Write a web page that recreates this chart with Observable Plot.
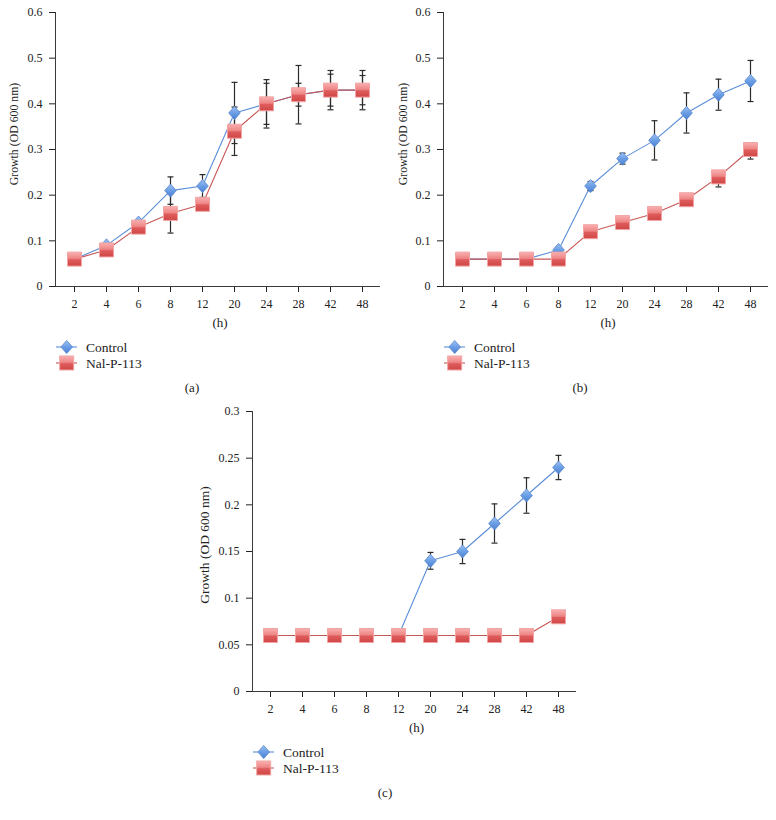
<!DOCTYPE html>
<html><head><meta charset="utf-8">
<script src="https://cdn.jsdelivr.net/npm/d3@7"></script>
<script src="https://cdn.jsdelivr.net/npm/@observablehq/plot@0.6"></script>
<style>
body{margin:0;background:#fff;}
#root{position:relative;width:776px;height:820px;background:#fff;font-family:"Liberation Serif","DejaVu Serif",serif;color:#222;overflow:hidden;}
.plotwrap{position:absolute;}
.ytitle{position:absolute;white-space:nowrap;transform:translate(-50%,-50%) rotate(-90deg);}
.ctr{position:absolute;font-size:13px;white-space:nowrap;transform:translate(-50%,-50%);}
.leg{position:absolute;}
</style></head><body>
<svg width="0" height="0" style="position:absolute">
  <defs>
    <linearGradient id="gBlue" x1="0" y1="0" x2="0" y2="1">
      <stop offset="0" stop-color="#9dc2f2"/>
      <stop offset="0.5" stop-color="#6b9ee6"/>
      <stop offset="1" stop-color="#4a80d2"/>
    </linearGradient>
    <linearGradient id="gRed" x1="0" y1="0" x2="0" y2="1">
      <stop offset="0" stop-color="#f9b0b0"/>
      <stop offset="0.45" stop-color="#ee8585"/>
      <stop offset="0.55" stop-color="#df5c5c"/>
      <stop offset="1" stop-color="#cf4646"/>
    </linearGradient>
  </defs>
</svg>
<div id="root"></div>
<script>
// ---- data ----
const hours = ["2","4","6","8","12","20","24","28","42","48"];
const seriesNames = ["Control", "Nal-P-113"];

// panel (a)
const aControl    = [0.06,0.09,0.14,0.21,0.22,0.38,0.40,0.42,0.43,0.43];
const aControlErr = [0,0,0,0.03,0.025,0.067,0.053,0.064,0.043,0.043];
const aNal        = [0.06,0.08,0.13,0.16,0.18,0.34,0.40,0.42,0.43,0.43];
const aNalErr     = [0,0,0,0.043,0.01,0.053,0.045,0.025,0.035,0.032];

// panel (b)
const bControl      = [0.06,0.06,0.06,0.08,0.22,0.28,0.32,0.38,0.42,0.45];
const bControlErr   = [0,0,0,0,0.01,0.012,0.043,0.044,0.034,0.045];
const bNal          = [0.06,0.06,0.06,0.06,0.12,0.14,0.16,0.19,0.24,0.30];
const bNalErrDown   = [0,0,0,0,0,0,0.013,0,0.022,0.021];
const bNalErrUp     = [0,0,0,0,0,0,0,0,0,0];

// panel (c)
const cControl    = [0.06,0.06,0.06,0.06,0.06,0.14,0.15,0.18,0.21,0.24];
const cControlErr = [0,0,0,0,0,0.009,0.013,0.021,0.019,0.013];
const cNal        = [0.06,0.06,0.06,0.06,0.06,0.06,0.06,0.06,0.06,0.08];
const cNalErr     = [0,0,0,0,0,0,0,0,0,0];

const yTicksAB = [0,0.1,0.2,0.3,0.4,0.5,0.6];
const yTicksC  = [0,0.05,0.1,0.15,0.2,0.25,0.3];

const yTitle = "Growth (OD 600 nm)";
const xTitle = "(h)";
const panelLabels = ["(a)","(b)","(c)"];

// ---- styles ----
const FONT = '"Liberation Serif","DejaVu Serif",serif';
const blue = "#5b8fd8";
const red = "#c95656";
const errColor = "#2b2b2b";
const axisColor = "#3a3a3a";

const capSymbol = {draw(ctx, size){ const w = Math.sqrt(size/Math.PI); ctx.moveTo(-w,0); ctx.lineTo(w,0); }};
const diamondSymbol = {draw(ctx, size){ const r = Math.sqrt(size/Math.PI); const h = r*1.1, w = r*0.97;
  ctx.moveTo(0,-h); ctx.lineTo(w,0); ctx.lineTo(0,h); ctx.lineTo(-w,0); ctx.closePath(); }};

function axisLines(color){
  return (index, scales, values, dims) => {
    const g = d3.create("svg:g").attr("stroke", color).attr("stroke-width", 1).attr("shape-rendering","crispEdges");
    const x0 = dims.marginLeft, yb = dims.height - dims.marginBottom;
    g.append("line").attr("x1", x0).attr("x2", x0).attr("y1", dims.marginTop).attr("y2", yb);
    g.append("line").attr("x1", x0).attr("x2", dims.width - dims.marginRight).attr("y1", yb).attr("y2", yb);
    return g.node();
  };
}

const root = document.getElementById("root");

function panel(cfg){
  const rows = hours.map((h,i)=>({h, c: cfg.control[i], n: cfg.nal[i]}));
  const errs = [];
  hours.forEach((h, i) => {
    if (cfg.controlErrDown[i] > 0 || cfg.controlErrUp[i] > 0)
      errs.push({h, lo: cfg.control[i] - cfg.controlErrDown[i], hi: cfg.control[i] + cfg.controlErrUp[i]});
    if (cfg.nalErrDown[i] > 0 || cfg.nalErrUp[i] > 0)
      errs.push({h, lo: cfg.nal[i] - cfg.nalErrDown[i], hi: cfg.nal[i] + cfg.nalErrUp[i]});
  });
  const chart = Plot.plot({
    width: cfg.width, height: cfg.height,
    marginTop: cfg.mt, marginRight: cfg.mr, marginBottom: cfg.mb, marginLeft: cfg.ml,
    style: {fontFamily: FONT, fontSize: "12px", color: "#222", background: "transparent", overflow: "visible"},
    x: {type: "point", domain: hours, padding: 0.53, tickSize: 6, tickPadding: 7, label: null},
    y: {domain: [0, cfg.yMax], ticks: cfg.yTicks, tickFormat: d => String(+d.toFixed(2)), tickSize: 6, tickPadding: 7, label: null},
    marks: [
      axisLines(axisColor),
      Plot.line(rows, {x: "h", y: "c", stroke: blue, strokeWidth: 1.1}),
      Plot.line(rows, {x: "h", y: "n", stroke: red, strokeWidth: 1.1}),
      Plot.ruleX(errs, {x: "h", y1: "lo", y2: "hi", stroke: errColor, strokeWidth: 1.2}),
      Plot.dot(errs, {x: "h", y: "hi", symbol: capSymbol, r: 3, fill: "none", stroke: errColor, strokeWidth: 1.2}),
      Plot.dot(errs, {x: "h", y: "lo", symbol: capSymbol, r: 3, fill: "none", stroke: errColor, strokeWidth: 1.2}),
      Plot.dot(rows, {x: "h", y: "c", symbol: diamondSymbol, r: 6, fill: "url(#gBlue)", stroke: "#5a88cc", strokeWidth: 0.8}),
      Plot.dot(rows, {x: "h", y: "n", symbol: "square", r: 7.9, fill: "url(#gRed)", stroke: "#f2a4a4", strokeWidth: 1})
    ]
  });
  const wrap = document.createElement("div");
  wrap.className = "plotwrap";
  wrap.style.left = cfg.left + "px";
  wrap.style.top = cfg.top + "px";
  wrap.appendChild(chart);
  root.appendChild(wrap);

  const axisX = cfg.left + cfg.ml;
  const y0 = cfg.top + cfg.height - cfg.mb;
  const xEnd = cfg.left + cfg.width - cfg.mr;
  const cx = (axisX + xEnd) / 2;

  const yt = document.createElement("div");
  yt.className = "ytitle"; yt.textContent = yTitle;
  yt.style.fontSize = cfg.yTitleSize + "px";
  yt.style.left = (axisX - cfg.yTitleOff) + "px"; yt.style.top = cfg.yTitleY + "px";
  root.appendChild(yt);

  const xt = document.createElement("div");
  xt.className = "ctr"; xt.textContent = xTitle;
  xt.style.left = (cx + 2.5) + "px"; xt.style.top = (y0 + 37) + "px";
  root.appendChild(xt);

  const pl = document.createElement("div");
  pl.className = "ctr"; pl.textContent = cfg.label;
  pl.style.left = (cx + cfg.labelOff) + "px"; pl.style.top = (y0 + 102) + "px";
  root.appendChild(pl);

  // legend
  const leg = d3.create("svg").attr("width", 130).attr("height", 36)
    .attr("class", "leg").style("left", (axisX) + "px").style("top", (y0 + 52) + "px")
    .style("overflow", "visible");
  const rowsY = [9, 25];
  leg.append("line").attr("x1", 1).attr("x2", 22).attr("y1", rowsY[0]).attr("y2", rowsY[0]).attr("stroke", blue).attr("stroke-width", 1.1);
  leg.append("path").attr("transform", `translate(11.7,${rowsY[0]})`)
    .attr("d", "M0,-6.6L5.8,0L0,6.6L-5.8,0Z").attr("fill", "url(#gBlue)").attr("stroke", "#5a88cc").attr("stroke-width", 0.8);
  leg.append("line").attr("x1", 1).attr("x2", 22).attr("y1", rowsY[1]).attr("y2", rowsY[1]).attr("stroke", red).attr("stroke-width", 1.1);
  leg.append("rect").attr("x", 11.7 - 7).attr("y", rowsY[1] - 7).attr("width", 14).attr("height", 14)
    .attr("fill", "url(#gRed)").attr("stroke", "#f2a4a4").attr("stroke-width", 1);
  seriesNames.forEach((s, i) => {
    leg.append("text").attr("x", 31).attr("y", rowsY[i]).attr("dy", "0.35em")
      .attr("font-family", FONT).attr("font-size", 13.5).attr("fill", "#222").text(s);
  });
  root.appendChild(leg.node());
}

panel({control: aControl, controlErrDown: aControlErr, controlErrUp: aControlErr,
  nal: aNal, nalErrDown: aNalErr, nalErrUp: aNalErr, yMax: 0.6, yTicks: yTicksAB,
  left: 0, top: 0, width: 390, height: 312, mt: 12, mr: 10, mb: 26, ml: 55,
  yTitleOff: 41, yTitleY: 134, yTitleSize: 11.8, labelOff: -25.5, label: panelLabels[0]});
panel({control: bControl, controlErrDown: bControlErr, controlErrUp: bControlErr,
  nal: bNal, nalErrDown: bNalErrDown, nalErrUp: bNalErrUp, yMax: 0.6, yTicks: yTicksAB,
  left: 388, top: 0, width: 388, height: 312, mt: 12, mr: 8, mb: 26, ml: 55,
  yTitleOff: 40, yTitleY: 134, yTitleSize: 11.8, labelOff: -25.5, label: panelLabels[1]});
panel({control: cControl, controlErrDown: cControlErr, controlErrUp: cControlErr,
  nal: cNal, nalErrDown: cNalErr, nalErrUp: cNalErr, yMax: 0.3, yTicks: yTicksC,
  left: 197, top: 398, width: 390, height: 319, mt: 13, mr: 11, mb: 26, ml: 55,
  yTitleOff: 47, yTitleY: 545, yTitleSize: 13.5, labelOff: -29, label: panelLabels[2]});
</script>
</body></html>
